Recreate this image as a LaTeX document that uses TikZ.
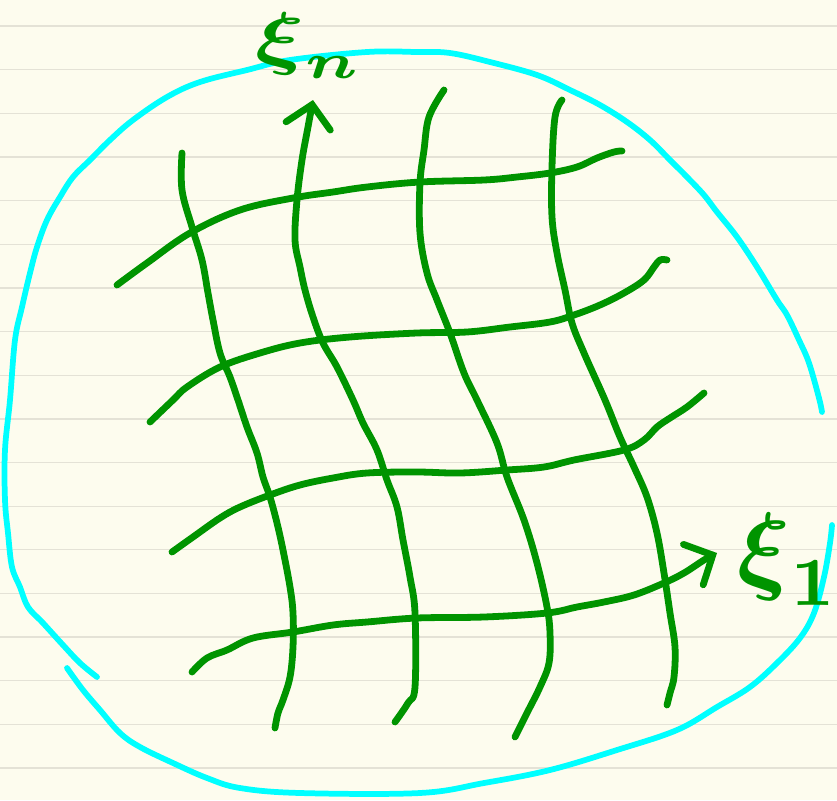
\documentclass[tikz,border=0pt]{standalone}
\usepackage{amsmath, amssymb}
\usetikzlibrary{arrows.meta}
\definecolor{paper}{RGB}{253, 252, 238}
\definecolor{ruling}{RGB}{228, 226, 214}
\definecolor{inkgreen}{RGB}{0, 148, 0}
\definecolor{inkcyan}{RGB}{0, 255, 255}

\tikzset{
  ruleline/.style={draw=ruling, line width=1.1pt},
  blobline/.style={draw=inkcyan, line width=4.9pt, line cap=round, line join=round},
  gridline/.style={draw=inkgreen, line width=5.8pt, line cap=round, line join=round},
  axisline/.style={gridline, -{Straight Barb[length=6.5mm, width=13.5mm, line cap=round]}},
  axislabel/.style={text=inkgreen, inner sep=0pt, anchor=base west}
}

\begin{document}
\begin{tikzpicture}[x=0.03cm, y=-0.03cm]
  % Paper and rulings
  \fill[paper] (0,0) rectangle (837,800);
  \useasboundingbox (0,0) rectangle (837,800);
  \foreach \k in {0,...,17}
    \draw[ruleline] (0,{26+43.65*\k}) -- (837,{26+43.65*\k});

  % Domain outline (two strokes)
  \draw[blobline] plot[smooth, tension=0.6] coordinates {(822,412) (819,398) (809,363) (799,340) (787,315) (777,300) (757,267) (737,237) (717,212) (704,195) (687,177) (670,160) (650,140) (627,122) (600,105) (570,90) (537,75) (490,62) (450,53) (417,52) (367,52) (290,60) (247,70) (200,82) (167,97) (133,120) (110,140) (90,160) (73,177) (60,197) (47,220) (37,247) (30,273) (22,307) (15,340) (10,400) (5,450) (5,500) (8,533) (12,567) (20,587) (28,607) (43,623) (63,645) (80,663) (97,677)};
  \draw[blobline] plot[smooth, tension=0.6] coordinates {(67,668) (83,690) (100,710) (120,733) (140,747) (173,763) (207,778) (240,788) (300,793) (420,793) (484,783) (550,770) (617,750) (677,730) (717,707) (750,687) (777,663) (800,638) (814,613) (824,577) (830,543) (832,525)};

  % Coordinate lines along xi_n
  \draw[gridline] plot[smooth, tension=0.6] coordinates {(182,153) (182,190) (192,227) (202,260) (208,293) (213,320) (220,353) (230,377) (238,400) (247,427) (257,453) (263,477) (270,497) (277,523) (283,550) (290,587) (293,613) (293,647) (290,677) (283,700) (278,713) (275,728)};
  \draw[axisline] plot[smooth, tension=0.6] coordinates {(395,722) (408,703) (415,687) (415,613) (410,577) (403,540) (397,507) (387,480) (377,450) (363,423) (353,400) (337,367) (323,343) (313,317) (305,290) (300,267) (295,240) (297,200) (302,160) (308,127) (313,100)};
  \draw[gridline] plot[smooth, tension=0.6] coordinates {(444,90) (429,117) (424,150) (420,183) (420,233) (427,273) (437,300) (450,333) (464,373) (477,400) (497,443) (507,477) (524,520) (537,563) (547,607) (550,633) (549,663) (540,687) (527,713) (515,737)};
  \draw[gridline] plot[smooth, tension=0.6] coordinates {(562,100) (555,117) (552,167) (552,217) (557,253) (565,290) (572,323) (584,353) (605,400) (620,437) (634,467) (647,497) (657,533) (664,573) (670,613) (675,647) (674,677) (670,693) (667,705)};

  % Coordinate lines along xi_1
  \draw[gridline] plot[smooth, tension=0.6] coordinates {(117,285) (147,263) (190,233) (240,210) (293,198) (333,192) (367,187) (420,182) (484,180) (517,177) (550,173) (577,167) (597,158) (614,152) (622,151)};
  \draw[gridline] plot[smooth, tension=0.6] coordinates {(150,422) (173,400) (187,387) (220,367) (260,353) (300,343) (350,337) (417,333) (467,332) (510,327) (550,322) (574,315) (600,305) (624,293) (644,280) (654,267) (660,260) (667,260)};
  \draw[gridline] plot[smooth, tension=0.6] coordinates {(172,552) (193,537) (220,518) (240,507) (270,495) (300,485) (333,478) (367,473) (417,472) (460,473) (507,470) (544,467) (574,460) (624,450) (644,440) (657,427) (670,418) (687,407) (704,393)};
  \draw[axisline] plot[smooth, tension=0.6] coordinates {(192,672) (207,658) (227,650) (253,638) (293,632) (333,625) (367,622) (417,618) (484,617) (547,613) (577,607) (604,602) (634,595) (664,583) (684,573) (704,560) (717,553)};

  % Axis labels
  \node[axislabel, xscale=7.8, yscale=6] (xin) at (254,61) {$\boldsymbol{\xi}_{\boldsymbol{n}}$};
  \node[axislabel, scale=8.4] (xione) at (736,581) {$\boldsymbol{\xi}_{\boldsymbol{1}}$};
\end{tikzpicture}
\end{document}
